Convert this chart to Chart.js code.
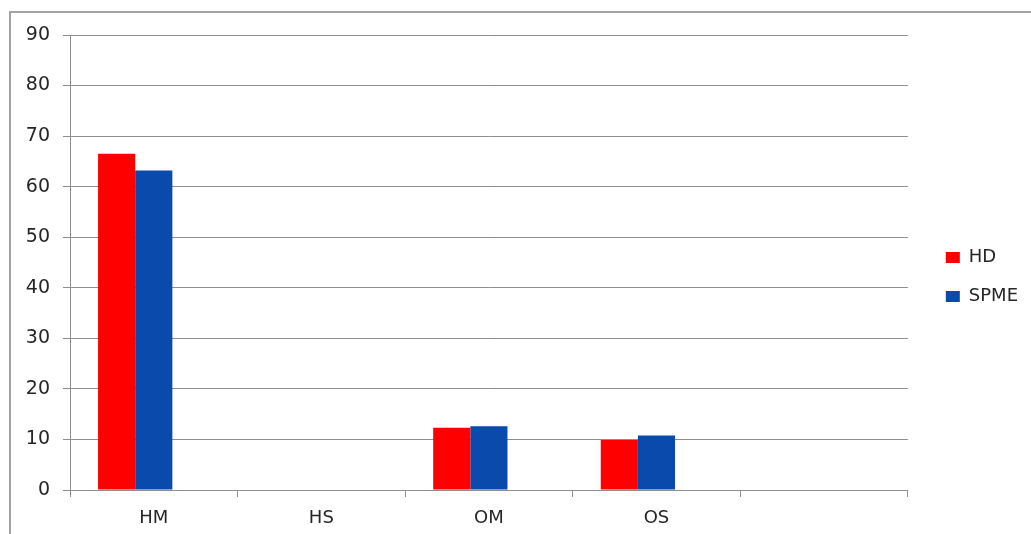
<!DOCTYPE html>
<html>
<head>
<meta charset="utf-8">
<script src="https://cdn.jsdelivr.net/npm/chart.js@4/dist/chart.umd.min.js"></script>
<style>
  html, body { margin: 0; padding: 0; background: #ffffff; }
  #wrap { position: relative; width: 1031px; height: 534px; overflow: hidden; }
  #frame { position: absolute; left: 9px; top: 11px; right: -4px; bottom: -4px;
           border-top: 2px solid #a3a3a3; border-left: 2px solid #a3a3a3; }
  canvas { position: absolute; left: 0; top: 0; }
</style>
</head>
<body>
<div id="wrap">
  <div id="frame"></div>
  <canvas id="chart" width="1031" height="534"></canvas>
</div>
<script>
// Categories along the x axis (the last slot is left empty)
const categories = ['HM', 'HS', 'OM', 'OS', ''];

// Measured percentages per extraction method
const hdValues   = [66.5, null, 12.3, 9.9, null];
const spmeValues = [63.2, null, 12.6, 10.8, null];
// Third series slot kept empty, it only reserves room in each group
const emptyValues = [null, null, null, null, null];

const seriesNames = ['HD', 'SPME'];
const yTicks = [0, 10, 20, 30, 40, 50, 60, 70, 80, 90];

const gridGray = '#8e8e8e';
const textColor = '#262626';
const fontFamily = '"DejaVu Sans", "Liberation Sans", sans-serif';

new Chart(document.getElementById('chart'), {
  type: 'bar',
  data: {
    labels: categories,
    datasets: [
      { label: seriesNames[0], data: hdValues, backgroundColor: '#ff0000', borderWidth: 0 },
      { label: seriesNames[1], data: spmeValues, backgroundColor: '#0a4aad', borderWidth: 0 },
      { label: '', data: emptyValues, backgroundColor: 'rgba(0,0,0,0)', borderWidth: 0 }
    ]
  },
  options: {
    responsive: false,
    animation: false,
    events: [],
    categoryPercentage: 0.665,
    barPercentage: 1.0,
    layout: { padding: { top: 35, left: 0, right: 3, bottom: 0 } },
    plugins: {
      tooltip: { enabled: false },
      legend: {
        position: 'right',
        align: 'center',
        fullSize: false,
        // empty heading used as a spacer to sit the entries a little lower
        title: {
          display: true,
          text: '',
          font: { size: 12, lineHeight: 1 },
          padding: { top: 0, bottom: 17 }
        },
        labels: {
          boxWidth: 14,
          boxHeight: 11,
          padding: 21,
          color: textColor,
          font: { family: fontFamily, size: 18 },
          filter: (item) => item.text !== ''
        }
      }
    },
    scales: {
      x: {
        grid: {
          offset: true,
          drawOnChartArea: false,
          drawTicks: true,
          tickLength: 7,
          color: gridGray
        },
        border: { display: true, color: gridGray, width: 1 },
        ticks: {
          color: textColor,
          padding: 11,
          font: { family: fontFamily, size: 18 }
        },
        afterFit: (s) => { s.height = 44; }
      },
      y: {
        min: 0,
        max: 90,
        afterBuildTicks: (s) => { s.ticks = yTicks.map(v => ({ value: v })); },
        grid: {
          color: gridGray,
          drawTicks: true,
          tickLength: 7,
          lineWidth: 1
        },
        border: { display: true, color: gridGray, width: 1 },
        ticks: {
          color: textColor,
          padding: 13,
          font: { family: fontFamily, size: 19 }
        },
        afterFit: (s) => { s.width = 70; }
      },
      gutter: {
        type: 'linear',
        position: 'right',
        display: true,
        grid: { display: false },
        border: { display: false },
        ticks: { display: false },
        afterFit: (s) => { s.width = 17; }
      }
    }
  }
});
</script>
</body>
</html>
